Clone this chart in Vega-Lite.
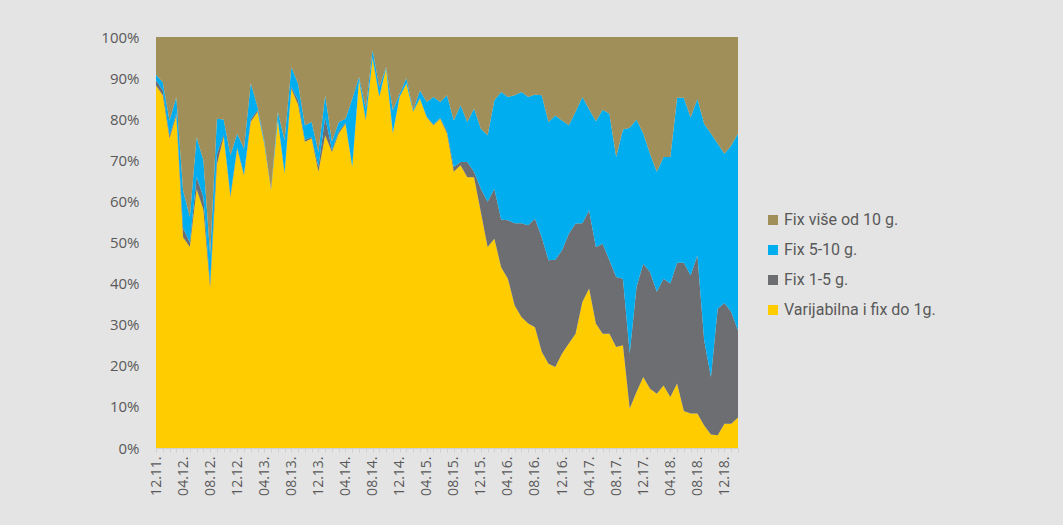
{
  "$schema": "https://vega.github.io/schema/vega-lite/v6.json",
  "autosize": "none",
  "width": 582,
  "height": 411,
  "padding": {"left": 156, "top": 37, "right": 325, "bottom": 77},
  "background": "#E4E4E4",
  "config": {"view": {"stroke": null}},
  "data": {"values": [
    {"d":"12.11.","s1":88.2,"s2":1.3,"s3":1.3,"s4":9.2},
    {"d":"01.12.","s1":85.8,"s2":1.2,"s3":2.0,"s4":11.0},
    {"d":"02.12.","s1":75.3,"s2":0.7,"s3":3.7,"s4":20.3},
    {"d":"03.12.","s1":80.9,"s2":0.6,"s3":3.9,"s4":14.6},
    {"d":"04.12.","s1":51.3,"s2":2.2,"s3":9.2,"s4":37.3},
    {"d":"05.12.","s1":48.9,"s2":1.1,"s3":6.2,"s4":43.8},
    {"d":"06.12.","s1":63.0,"s2":3.0,"s3":9.7,"s4":24.3},
    {"d":"07.12.","s1":58.0,"s2":3.0,"s3":9.0,"s4":30.0},
    {"d":"08.12.","s1":39.0,"s2":1.0,"s3":7.0,"s4":53.0},
    {"d":"09.12.","s1":69.0,"s2":2.5,"s3":8.6,"s4":19.9},
    {"d":"10.12.","s1":75.7,"s2":0.5,"s3":3.7,"s4":20.1},
    {"d":"11.12.","s1":61.1,"s2":0.4,"s3":9.7,"s4":28.8},
    {"d":"12.12.","s1":72.8,"s2":0.4,"s3":3.3,"s4":23.5},
    {"d":"01.13.","s1":66.3,"s2":0.3,"s3":6.2,"s4":27.2},
    {"d":"02.13.","s1":79.3,"s2":0.7,"s3":8.8,"s4":11.2},
    {"d":"03.13.","s1":81.8,"s2":0.4,"s3":0.8,"s4":17.0},
    {"d":"04.13.","s1":74.0,"s2":0.3,"s3":0.6,"s4":25.1},
    {"d":"05.13.","s1":62.7,"s2":0.1,"s3":0.1,"s4":37.1},
    {"d":"06.13.","s1":79.7,"s2":0.3,"s3":1.8,"s4":18.2},
    {"d":"07.13.","s1":66.7,"s2":0.3,"s3":7.9,"s4":25.1},
    {"d":"08.13.","s1":87.4,"s2":0.5,"s3":4.8,"s4":7.3},
    {"d":"09.13.","s1":83.5,"s2":1.1,"s3":4.0,"s4":11.4},
    {"d":"10.13.","s1":74.5,"s2":0.5,"s3":3.5,"s4":21.5},
    {"d":"11.13.","s1":75.3,"s2":0.3,"s3":3.7,"s4":20.7},
    {"d":"12.13.","s1":67.2,"s2":1.3,"s3":3.5,"s4":28.0},
    {"d":"01.14.","s1":76.1,"s2":4.4,"s3":5.3,"s4":14.2},
    {"d":"02.14.","s1":72.0,"s2":0.5,"s3":2.0,"s4":25.5},
    {"d":"03.14.","s1":76.5,"s2":0.5,"s3":2.3,"s4":20.7},
    {"d":"04.14.","s1":78.9,"s2":0.3,"s3":0.9,"s4":19.9},
    {"d":"05.14.","s1":68.4,"s2":0.1,"s3":16.5,"s4":15.0},
    {"d":"06.14.","s1":89.5,"s2":0.2,"s3":0.6,"s4":9.7},
    {"d":"07.14.","s1":79.7,"s2":0.3,"s3":2.6,"s4":17.4},
    {"d":"08.14.","s1":94.7,"s2":0.3,"s3":1.9,"s4":3.1},
    {"d":"09.14.","s1":85.4,"s2":0.2,"s3":2.2,"s4":12.2},
    {"d":"10.14.","s1":92.3,"s2":0.1,"s3":0.3,"s4":7.3},
    {"d":"11.14.","s1":76.5,"s2":0.2,"s3":5.5,"s4":17.8},
    {"d":"12.14.","s1":85.4,"s2":0.1,"s3":0.7,"s4":13.8},
    {"d":"01.15.","s1":88.6,"s2":0.1,"s3":1.3,"s4":10.0},
    {"d":"02.15.","s1":81.8,"s2":0.1,"s3":0.3,"s4":17.8},
    {"d":"03.15.","s1":85.0,"s2":0.1,"s3":1.9,"s4":13.0},
    {"d":"04.15.","s1":80.5,"s2":0.1,"s3":3.6,"s4":15.8},
    {"d":"05.15.","s1":78.5,"s2":0.2,"s3":6.7,"s4":14.6},
    {"d":"06.15.","s1":80.1,"s2":0.2,"s3":3.9,"s4":15.8},
    {"d":"07.15.","s1":76.5,"s2":0.5,"s3":8.8,"s4":14.2},
    {"d":"08.15.","s1":67.2,"s2":1.2,"s3":11.3,"s4":20.3},
    {"d":"09.15.","s1":68.8,"s2":0.8,"s3":13.8,"s4":16.6},
    {"d":"10.15.","s1":65.9,"s2":3.7,"s3":9.7,"s4":20.7},
    {"d":"11.15.","s1":65.9,"s2":1.3,"s3":15.4,"s4":17.4},
    {"d":"12.15.","s1":57.4,"s2":5.7,"s3":14.6,"s4":22.3},
    {"d":"01.16.","s1":48.9,"s2":11.0,"s3":16.2,"s4":23.9},
    {"d":"02.16.","s1":50.9,"s2":12.2,"s3":21.5,"s4":15.4},
    {"d":"03.16.","s1":44.0,"s2":11.6,"s3":31.0,"s4":13.4},
    {"d":"04.16.","s1":41.2,"s2":14.2,"s3":30.0,"s4":14.6},
    {"d":"05.16.","s1":34.7,"s2":20.0,"s3":31.1,"s4":14.2},
    {"d":"06.16.","s1":31.9,"s2":22.8,"s3":31.9,"s4":13.4},
    {"d":"07.16.","s1":30.3,"s2":23.9,"s3":31.2,"s4":14.6},
    {"d":"08.16.","s1":29.4,"s2":26.4,"s3":30.2,"s4":14.0},
    {"d":"09.16.","s1":23.4,"s2":27.9,"s3":34.5,"s4":14.2},
    {"d":"10.16.","s1":20.5,"s2":25.2,"s3":33.6,"s4":20.7},
    {"d":"11.16.","s1":19.7,"s2":26.1,"s3":35.1,"s4":19.1},
    {"d":"12.16.","s1":23.0,"s2":25.1,"s3":31.6,"s4":20.3},
    {"d":"01.17.","s1":25.4,"s2":26.7,"s3":26.4,"s4":21.5},
    {"d":"02.17.","s1":27.8,"s2":26.8,"s3":27.2,"s4":18.2},
    {"d":"03.17.","s1":35.5,"s2":19.2,"s3":30.7,"s4":14.6},
    {"d":"04.17.","s1":38.8,"s2":19.0,"s3":24.6,"s4":17.6},
    {"d":"05.17.","s1":30.3,"s2":18.6,"s3":30.6,"s4":20.5},
    {"d":"06.17.","s1":27.8,"s2":21.9,"s3":32.6,"s4":17.7},
    {"d":"07.17.","s1":27.8,"s2":17.9,"s3":35.6,"s4":18.7},
    {"d":"08.17.","s1":24.6,"s2":17.0,"s3":29.2,"s4":29.2},
    {"d":"09.17.","s1":25.0,"s2":16.2,"s3":36.3,"s4":22.5},
    {"d":"10.17.","s1":9.6,"s2":13.4,"s3":54.9,"s4":22.1},
    {"d":"11.17.","s1":13.6,"s2":25.6,"s3":40.7,"s4":20.1},
    {"d":"12.17.","s1":17.3,"s2":27.5,"s3":31.7,"s4":23.5},
    {"d":"01.18.","s1":14.4,"s2":28.4,"s3":28.8,"s4":28.4},
    {"d":"02.18.","s1":13.2,"s2":24.8,"s3":29.2,"s4":32.8},
    {"d":"03.18.","s1":15.2,"s2":26.0,"s3":29.6,"s4":29.2},
    {"d":"04.18.","s1":12.4,"s2":27.6,"s3":30.8,"s4":29.2},
    {"d":"05.18.","s1":15.7,"s2":29.4,"s3":40.1,"s4":14.8},
    {"d":"06.18.","s1":9.0,"s2":36.1,"s3":40.1,"s4":14.8},
    {"d":"07.18.","s1":8.4,"s2":33.6,"s3":38.4,"s4":19.6},
    {"d":"08.18.","s1":8.4,"s2":38.5,"s3":38.1,"s4":15.0},
    {"d":"09.18.","s1":5.5,"s2":20.7,"s3":52.7,"s4":21.1},
    {"d":"10.18.","s1":3.3,"s2":14.0,"s3":59.2,"s4":23.5},
    {"d":"11.18.","s1":3.1,"s2":30.8,"s3":40.1,"s4":26.0},
    {"d":"12.18.","s1":5.9,"s2":29.4,"s3":36.3,"s4":28.4},
    {"d":"01.19.","s1":5.9,"s2":27.2,"s3":40.5,"s4":26.4},
    {"d":"02.19.","s1":7.4,"s2":21.2,"s3":47.9,"s4":23.5}
  ]},
  "transform": [{"fold": ["s1", "s2", "s3", "s4"], "as": ["key", "val"]}],
  "mark": {"type": "area", "interpolate": "linear", "opacity": 1},
  "encoding": {
    "x": {
      "field": "d", "type": "ordinal", "sort": null,
      "scale": {"type": "point", "padding": 0},
      "axis": {
        "title": null,
        "labelAngle": -90,
        "labelExpr": "indexof(['12','04','08'], substring(datum.value,0,2)) >= 0 ? datum.value : ''",
        "labelFont": "Open Sans", "labelFontSize": 14, "labelColor": "#595959",
        "labelPadding": 4,
        "tickSize": 4, "tickColor": "#D0D0D0",
        "domainColor": "#D0D0D0",
        "grid": false
      }
    },
    "y": {
      "field": "val", "type": "quantitative", "stack": "normalize",
      "axis": {
        "title": null,
        "format": ".0%",
        "values": [0, 0.1, 0.2, 0.3, 0.4, 0.5, 0.6, 0.7, 0.8, 0.9, 1],
        "labelFont": "Open Sans", "labelFontSize": 15, "labelColor": "#595959",
        "labelPadding": 17,
        "ticks": false, "domain": false, "grid": false
      }
    },
    "color": {
      "field": "key", "type": "nominal",
      "scale": {"domain": ["s4", "s3", "s2", "s1"], "range": ["#A08F58", "#00AEEF", "#6D6E71", "#FFCC00"]},
      "legend": {
        "title": null,
        "orient": "none",
        "legendX": 609,
        "legendY": 175,
        "symbolType": "square",
        "symbolSize": 100,
        "symbolStrokeWidth": 0,
        "labelExpr": "datum.value == 's4' ? 'Fix više od 10 g.' : datum.value == 's3' ? 'Fix 5-10 g.' : datum.value == 's2' ? 'Fix 1-5 g.' : 'Varijabilna i fix do 1g.'",
        "labelFont": "Roboto",
        "labelFontSize": 16,
        "labelColor": "#595959",
        "labelOffset": 3,
        "rowPadding": 14
      }
    },
    "order": {"field": "key", "sort": "ascending"}
  }
}
